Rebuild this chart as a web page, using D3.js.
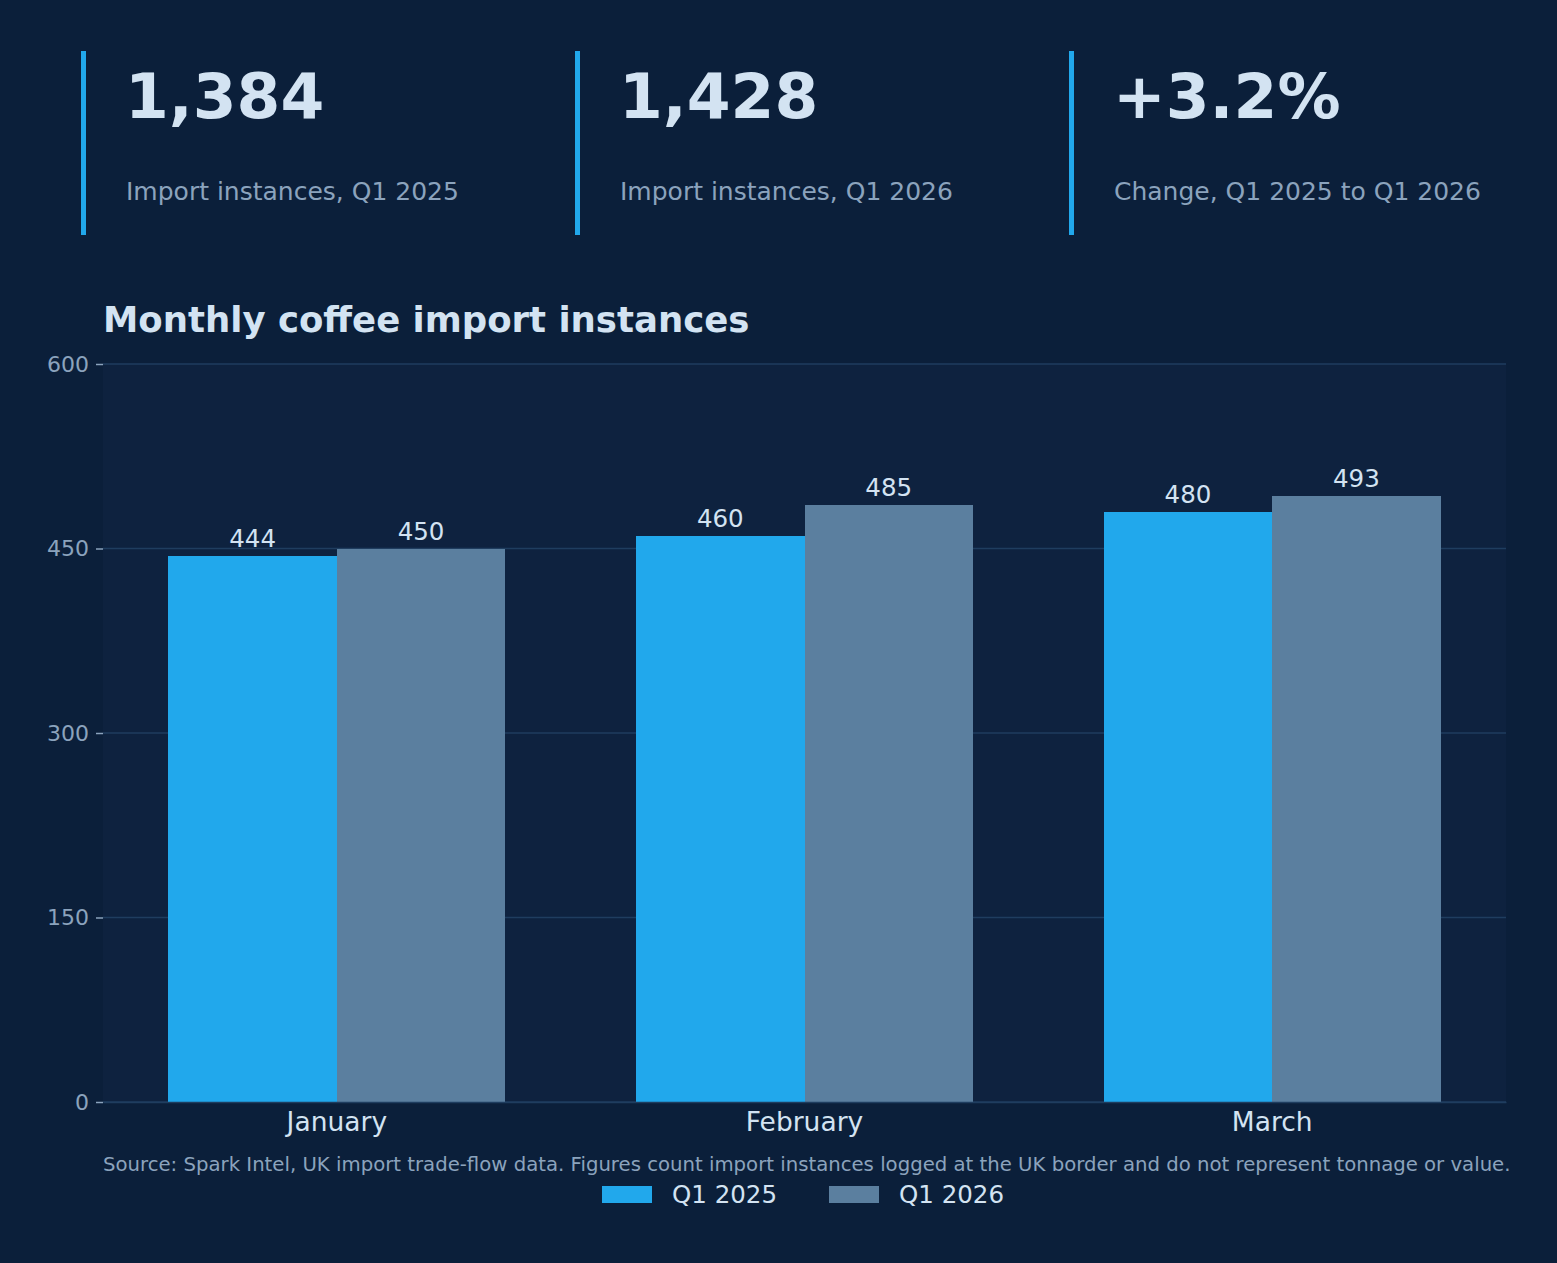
<!DOCTYPE html>
<html>
<head>
<meta charset="utf-8">
<script src="https://cdn.jsdelivr.net/npm/d3@7"></script>
<style>
  body { margin: 0; background: #0b1f3a; }
  svg { display: block; font-family: "DejaVu Sans", sans-serif; }
</style>
</head>
<body>
<svg id="chart" width="1557" height="1263"></svg>
<script>
// data
let months = ["January", "February", "March"]
let seriesNames = ["Q1 2025", "Q1 2026"]
let q1_2025 = [444, 460, 480]
let q1_2026 = [450, 485, 493]
let yTicks = [0, 150, 300, 450, 600]
let kpiValues = ["1,384", "1,428", "+3.2%"]
let kpiLabels = ["Import instances, Q1 2025", "Import instances, Q1 2026", "Change, Q1 2025 to Q1 2026"]

let colors = ["#21a8ec", "#5b7f9f"]

let svg = d3.select("#chart")
let width = +svg.attr("width"), height = +svg.attr("height")

svg.append("rect").attr("width", width).attr("height", height).attr("fill", "#0b1f3a")

// KPI strip
let kpi = svg.selectAll(".kpi")
    .data(kpiValues)
    .enter().append("g")
    .attr("class", "kpi")
    .attr("transform", (d, i) => "translate(" + (81 + i * 494) + ",0)")

kpi.append("rect")
    .attr("x", 0).attr("y", 51)
    .attr("width", 5).attr("height", 184)
    .attr("fill", "#21a8ec")

kpi.append("text")
    .attr("x", 44).attr("y", 118)
    .attr("fill", "#d3e3f2")
    .style("font-size", "63px")
    .style("font-weight", "bold")
    .text(d => d)

kpi.append("text")
    .attr("x", 45).attr("y", 200)
    .attr("fill", "#8ba3bd")
    .style("font-size", "25px")
    .text((d, i) => kpiLabels[i])

// chart
let margin = {top: 364, left: 103, right: 51, bottom: 161}
let w = width - margin.left - margin.right
let h = height - margin.top - margin.bottom

svg.append("text")
    .attr("x", margin.left).attr("y", 332)
    .attr("fill", "#d3e3f2")
    .style("font-size", "35.5px")
    .style("font-weight", "bold")
    .text("Monthly coffee import instances")

let g = svg.append("g").attr("transform", "translate(" + margin.left + "," + margin.top + ")")

g.append("rect").attr("width", w).attr("height", h).attr("fill", "#0e223f")

let x = d3.scaleBand().domain(months).range([0, w]).paddingInner(0.28).paddingOuter(0.14)
let x1 = d3.scaleBand().domain(seriesNames).range([0, x.bandwidth()])
let y = d3.scaleLinear().domain([0, 600]).range([h, 0])

// grid
g.selectAll(".grid")
    .data(yTicks)
    .enter().append("line")
    .attr("x1", 0).attr("x2", w)
    .attr("y1", d => y(d)).attr("y2", d => y(d))
    .attr("stroke", "#1f3d5f")
    .attr("stroke-width", 1.5)

let rows = months.map((m, i) => ({month: m, values: [q1_2025[i], q1_2026[i]]}))

let groups = g.selectAll(".grp")
    .data(rows)
    .enter().append("g")
    .attr("transform", d => "translate(" + x(d.month) + ",0)")

groups.selectAll("rect")
    .data(d => d.values.map((v, j) => ({key: seriesNames[j], v: v, j: j})))
    .enter().append("rect")
    .attr("x", d => x1(d.key))
    .attr("y", d => y(d.v))
    .attr("width", x1.bandwidth())
    .attr("height", d => h - y(d.v))
    .attr("fill", d => colors[d.j])
    .attr("shape-rendering", "crispEdges")

groups.selectAll(".val")
    .data(d => d.values.map((v, j) => ({key: seriesNames[j], v: v})))
    .enter().append("text")
    .attr("x", d => x1(d.key) + x1.bandwidth() / 2)
    .attr("y", d => y(d.v) - 9)
    .attr("text-anchor", "middle")
    .attr("fill", "#d3e3f2")
    .style("font-size", "24.5px")
    .text(d => d.v)

// y axis
let yAxis = g.append("g")
    .call(d3.axisLeft(y).tickValues(yTicks).tickSize(7).tickPadding(7))
yAxis.select(".domain").remove()
yAxis.selectAll("line").attr("stroke", "#8ba3bd").attr("stroke-width", 1.5)
yAxis.selectAll("text").attr("fill", "#8ba3bd").style("font-size", "22px")
    .style("font-family", "DejaVu Sans, sans-serif")

// x axis
let xAxis = g.append("g")
    .attr("transform", "translate(0," + h + ")")
    .call(d3.axisBottom(x).tickSize(0).tickPadding(10))
xAxis.select(".domain").attr("stroke", "#1f3d5f").attr("stroke-width", 1.5)
xAxis.selectAll("text").attr("fill", "#d3e3f2").style("font-size", "26.5px")
    .style("font-family", "DejaVu Sans, sans-serif")

// source
svg.append("text")
    .attr("x", margin.left).attr("y", 1171)
    .attr("fill", "#8ba3bd")
    .style("font-size", "19.7px")
    .text("Source: Spark Intel, UK import trade-flow data. Figures count import instances logged at the UK border and do not represent tonnage or value.")

// legend
let legend = svg.selectAll(".legend")
    .data(seriesNames)
    .enter().append("g")
    .attr("transform", (d, i) => "translate(" + (602 + i * 227) + ",1186)")

legend.append("rect")
    .attr("width", 50).attr("height", 17)
    .attr("fill", (d, i) => colors[i])

legend.append("text")
    .attr("x", 70).attr("y", 17)
    .attr("fill", "#d3e3f2")
    .style("font-size", "24.5px")
    .text(d => d)
</script>
</body>
</html>
